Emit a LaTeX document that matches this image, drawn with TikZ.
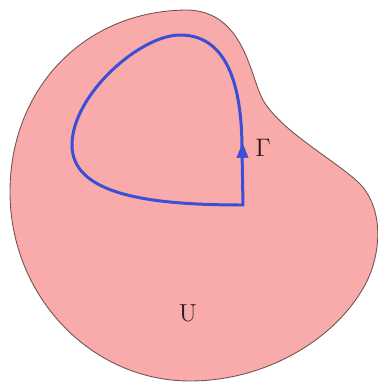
\documentclass[tikz,border=0pt]{standalone}
\usetikzlibrary{arrows.meta}
\definecolor{regF}{HTML}{F9AAAA}
\definecolor{regB}{HTML}{6E5552}
\definecolor{crvB}{HTML}{3A4ED6}
\definecolor{txt}{HTML}{2A1A1A}

\begin{document}
\begin{tikzpicture}[
  x=0.02cm,y=-0.02cm,
  font=\fontsize{14}{16}\selectfont,text=txt,
  region/.style={fill=regF,draw=regB,line width=0.5pt},
  contour/.style={draw=crvB,line width=1.7pt,line join=round},
  ]
\useasboundingbox (0,0) rectangle (378,382);

% ---- region U ----
\draw[region] (188,10) .. controls (85,10) and (10,88) .. (10,192)
  .. controls (10,296) and (91,381) .. (190,381)
  .. controls (265,381) and (335,340) .. (365,285)
  .. controls (381,255) and (383,215) .. (365,190)
  .. controls (350,168) and (283,135) .. (263,100)
  .. controls (250,77) and (245,12) .. cycle;

% ---- contour Gamma ----
\draw[contour] (243,205) -- (242,150)
  .. controls (242,75) and (222,35) .. (180,35)
  .. controls (140,35) and (72,95) .. (72,145)
  .. controls (72,195) and (150,205) .. cycle;
\draw[crvB,-{Triangle[length=3mm,width=2.4mm]}] (242.5,175) -- (242.5,143);

% ---- labels ----
\node (gam) at (263,148) {$\Gamma$};
\node (reg) at (188,313) {U};

\end{tikzpicture}
\end{document}
